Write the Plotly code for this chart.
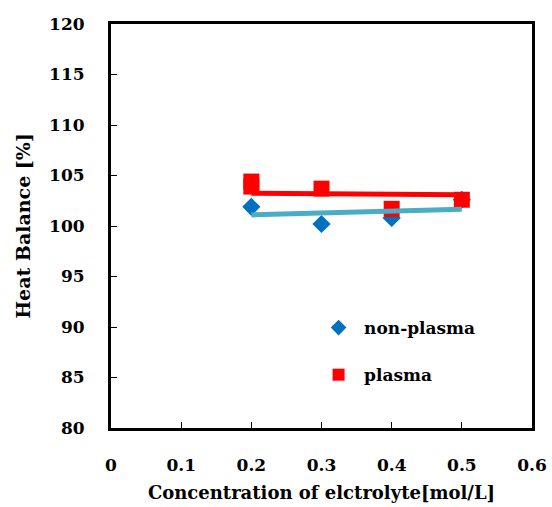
import plotly.graph_objects as go

# data
conc_non = [0.2, 0.3, 0.4, 0.5]
hb_non = [101.9, 100.2, 100.8, 102.6]
conc_pl = [0.2, 0.2, 0.3, 0.4, 0.5]
hb_pl = [104.4, 103.9, 103.7, 101.7, 102.6]
trend_x = [0.2, 0.5]
trend_non = [101.1, 101.65]
trend_pl = [103.25, 103.1]

x_ticks = [0, 0.1, 0.2, 0.3, 0.4, 0.5, 0.6]
y_ticks = [80, 85, 90, 95, 100, 105, 110, 115, 120]

FONT = "DejaVu Serif"

fig = go.Figure()
fig.add_trace(go.Scatter(x=conc_non, y=hb_non, mode="markers", name="non-plasma",
                         legendgroup="a",
                         marker=dict(symbol="diamond", size=14, color="#0070C0")))
fig.add_trace(go.Scatter(x=conc_pl, y=hb_pl, mode="markers", name="plasma",
                         legendgroup="b",
                         marker=dict(symbol="square", size=16, color="#FF0000")))
fig.add_trace(go.Scatter(x=trend_x, y=trend_pl, mode="lines", showlegend=False,
                         line=dict(color="#FF0000", width=5)))
fig.add_trace(go.Scatter(x=trend_x, y=trend_non, mode="lines", showlegend=False,
                         line=dict(color="#4BACC6", width=5)))

axis_common = dict(showgrid=False, zeroline=False, showline=True, linecolor="black",
                   linewidth=3, mirror=True, ticks="inside", ticklen=6, tickwidth=1,
                   tickcolor="black", automargin=False,
                   tickfont=dict(family=FONT, size=17, color="black", weight="bold"))

fig.update_xaxes(range=[0, 0.6], tickvals=x_ticks, ticktext=[str(v) for v in x_ticks],
                 ticklabelstandoff=20,
                 title=dict(text="<b>Concentration of elctrolyte[mol/L]</b>",
                            font=dict(family=FONT, size=18, color="black"), standoff=12),
                 **axis_common)
fig.update_yaxes(range=[80, 120], tickvals=y_ticks,
                 ticklabelstandoff=20,
                 title=dict(text="<b>Heat Balance [%]</b>",
                            font=dict(family=FONT, size=19, color="black"), standoff=14),
                 **axis_common)

fig.update_layout(
    width=552, height=507,
    margin=dict(l=111, r=20, t=24, b=79),
    plot_bgcolor="white", paper_bgcolor="white",
    font=dict(family=FONT, color="black"),
    legend=dict(x=0.48, y=0.292, xanchor="left", yanchor="top",
                font=dict(family=FONT, size=17, color="black", weight="bold"),
                bgcolor="rgba(0,0,0,0)", tracegroupgap=22, itemsizing="constant",
                itemwidth=41, traceorder="grouped"),
)

fig.write_html("out.html")
